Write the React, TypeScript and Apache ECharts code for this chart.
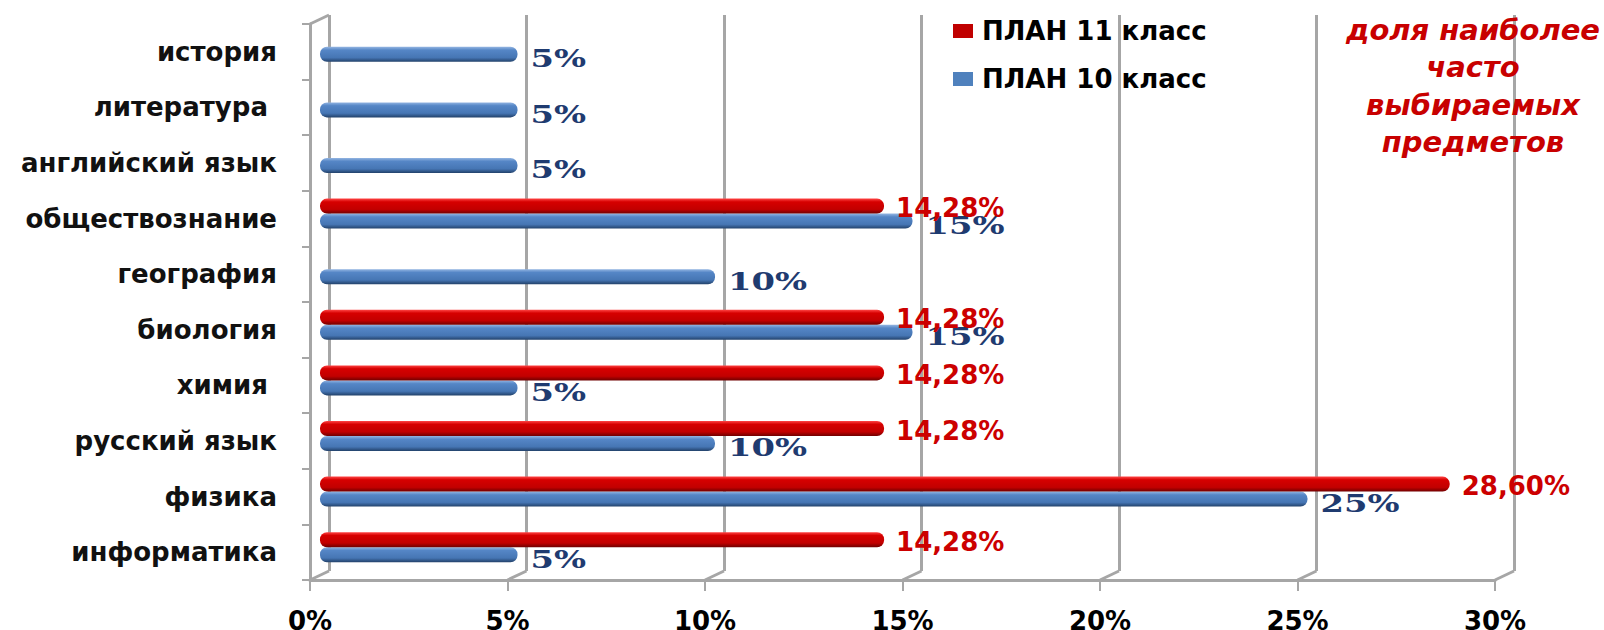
import React, { useEffect, useRef } from 'react';
import * as echarts from 'echarts';

const categories = [
  'информатика',
  'физика',
  'русский язык',
  'химия ',
  'биология',
  'география',
  'обществознание',
  'английский язык',
  'литература ',
  'история',
];
const plan10 = [5, 25, 10, 5, 15, 10, 15, 5, 5, 5];
const plan11: (number | null)[] = [14.28, 28.6, 14.28, 14.28, 14.28, null, 14.28, null, null, null];
const xTicks = [0, 5, 10, 15, 20, 25, 30];
const seriesNames = ['ПЛАН 11 класс', 'ПЛАН 10 класс'];
const noteLines = ['доля наиболее', 'часто', 'выбираемых', 'предметов'];

export default function App() {
  const ref = useRef<HTMLDivElement>(null);
  useEffect(() => {
    const chart = echarts.init(ref.current!, null, { renderer: 'svg' });
    const GRAY = '#A6A6A6';
    const DX = 19;
    const DY = 9;
    const BAR_W = 15;
    const blueGrad = new echarts.graphic.LinearGradient(0, 0, 0, 1, [
      { offset: 0, color: '#93B5E2' },
      { offset: 0.22, color: '#5586C6' },
      { offset: 0.72, color: '#4676B4' },
      { offset: 1, color: '#22416A' },
    ]);
    const redGrad = new echarts.graphic.LinearGradient(0, 0, 0, 1, [
      { offset: 0, color: '#FF4545' },
      { offset: 0.22, color: '#D60000' },
      { offset: 0.72, color: '#C20000' },
      { offset: 1, color: '#700000' },
    ]);
    const valueAxisBase = { type: 'value', min: 0, max: 30, interval: 5 };
    const option: any = {
      animation: false,
      backgroundColor: '#ffffff',
      grid: [
        { left: 310, top: 24, width: 1185, height: 556, outerBoundsMode: 'none' },
        { left: 310 + DX, top: 24 - DY, width: 1185, height: 556, outerBoundsMode: 'none' },
        { left: 320, top: 19, width: 1185, height: 556, outerBoundsMode: 'none' },
      ],
      xAxis: [
        {
          ...valueAxisBase,
          gridIndex: 0,
          axisLine: { show: true, lineStyle: { color: GRAY, width: 3 } },
          axisTick: { show: true, length: 11, lineStyle: { color: GRAY, width: 2 } },
          splitLine: { show: false },
          axisLabel: {
            formatter: '{value}%',
            color: '#000',
            fontFamily: 'DejaVu Sans',
            fontWeight: 'bold',
            fontSize: 26,
            margin: 28,
          },
        },
        {
          ...valueAxisBase,
          gridIndex: 1,
          axisLine: { show: false },
          axisTick: { show: false },
          axisLabel: { show: false },
          splitLine: { show: true, lineStyle: { color: GRAY, width: 3 } },
        },
        { ...valueAxisBase, gridIndex: 2, show: false },
      ],
      yAxis: [
        {
          type: 'category',
          gridIndex: 0,
          data: categories,
          axisLine: { show: true, lineStyle: { color: GRAY, width: 3 } },
          axisTick: { show: true, length: 8, lineStyle: { color: GRAY, width: 2 } },
          splitLine: { show: false },
          axisLabel: {
            color: '#111',
            fontFamily: 'DejaVu Sans',
            fontWeight: 'bold',
            fontSize: 26,
            margin: 33,
          },
        },
        { type: 'category', gridIndex: 1, data: categories, show: false },
        { type: 'category', gridIndex: 2, data: categories, show: false },
      ],
      legend: {
        data: [
          { name: seriesNames[0], itemStyle: { color: '#C00000' } },
          { name: seriesNames[1], itemStyle: { color: '#4F81BD' } },
        ],
        orient: 'vertical',
        left: 953,
        top: 18,
        padding: 0,
        itemWidth: 20,
        itemHeight: 14,
        itemGap: 22,
        icon: 'rect',
        textStyle: { fontFamily: 'DejaVu Sans', fontWeight: 'bold', fontSize: 26, color: '#000', padding: [0, 0, 0, 4] },
      },
      graphic: [
        {
          type: 'text',
          x: 1473,
          y: 11,
          z: 10,
          style: {
            text: noteLines.join('\n'),
            fill: '#C80000',
            fontFamily: 'DejaVu Sans',
            fontStyle: 'italic',
            fontWeight: 'bold',
            fontSize: 29,
            lineHeight: 37.5,
            align: 'center',
            verticalAlign: 'top',
          },
        },
      ],
      series: [
        {
          type: 'custom',
          xAxisIndex: 0,
          yAxisIndex: 0,
          silent: true,
          clip: false,
          z: 1,
          data: xTicks.map((v) => [v, 0]),
          encode: { x: 0, y: 1 },
          renderItem: (params: any, api: any) => {
            const cs = params.coordSys;
            const v = api.value(0);
            const x = api.coord([v, 0])[0];
            const bottom = cs.y + cs.height;
            const style = { stroke: GRAY, lineWidth: 3 };
            const children: any[] = [
              { type: 'line', shape: { x1: x, y1: bottom, x2: x + DX, y2: bottom - DY }, style },
            ];
            if (v === 0) {
              children.push({ type: 'line', shape: { x1: x, y1: cs.y, x2: x + DX, y2: cs.y - DY }, style });
            }
            return { type: 'group', children };
          },
        },
        {
          name: seriesNames[0],
          type: 'bar',
          xAxisIndex: 2,
          yAxisIndex: 2,
          data: plan11,
          barWidth: BAR_W,
          barGap: '0%',
          z: 4,
          itemStyle: { color: redGrad, borderRadius: 7 },
          label: {
            show: true,
            position: 'right',
            distance: 12,
            offset: [0, 2],
            formatter: (p: any) => `${Number(p.value).toFixed(2).replace('.', ',')}%`,
            color: '#CC0000',
            fontFamily: 'DejaVu Sans',
            fontWeight: 'bold',
            fontSize: 26,
          },
        },
        {
          name: seriesNames[1],
          type: 'bar',
          xAxisIndex: 2,
          yAxisIndex: 2,
          data: plan10,
          barWidth: BAR_W,
          barGap: '0%',
          z: 3,
          itemStyle: { color: blueGrad, borderRadius: 7 },
        },
        {
          type: 'custom',
          xAxisIndex: 2,
          yAxisIndex: 2,
          silent: true,
          clip: false,
          z: 3,
          data: plan10.map((v, i) => [v, i]),
          encode: { x: 0, y: 1 },
          renderItem: (params: any, api: any) => {
            const v = api.value(0);
            const p = api.coord([v, api.value(1)]);
            return {
              type: 'text',
              x: p[0] + 13,
              y: p[1] + BAR_W / 2 + 4,
              scaleX: 1.35,
              style: {
                text: `${v}%`,
                fill: '#1F3B70',
                fontFamily: 'DejaVu Serif',
                fontWeight: 'bold',
                fontSize: 25,
                align: 'left',
                verticalAlign: 'middle',
              },
            };
          },
        },
      ],
    };
    chart.setOption(option);
    return () => chart.dispose();
  }, []);
  return (
    <div
      ref={ref}
      style={{ position: 'fixed', left: 0, top: 0, width: 1604, height: 630, background: '#fff' }}
    />
  );
}
